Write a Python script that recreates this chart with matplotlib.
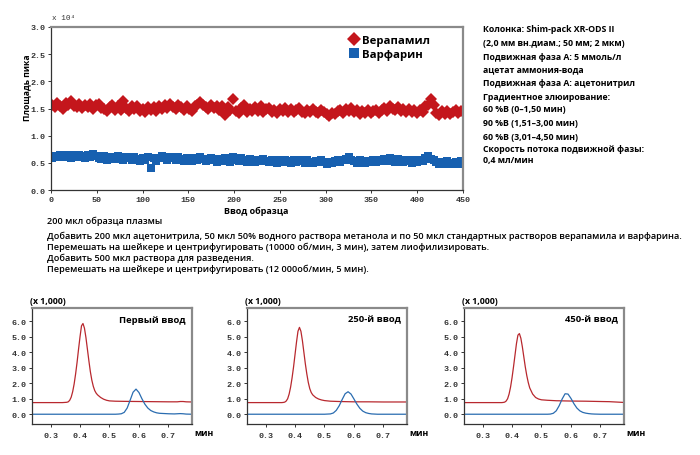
import matplotlib
matplotlib.use("Agg")
import matplotlib.pyplot as plt
import numpy as np

W, H = 700, 456

# ---- main chart data: peak area (x 10^4) every 3rd injection ----
injections = list(range(1, 450, 3))
verapamil = [
    1.56, 1.52, 1.60, 1.55, 1.50, 1.61, 1.56, 1.64, 1.55, 1.53,
    1.59, 1.51, 1.57, 1.52, 1.58, 1.50, 1.56, 1.59, 1.51, 1.49,
    1.45, 1.53, 1.56, 1.48, 1.54, 1.47, 1.64, 1.51, 1.45, 1.54,
    1.49, 1.55, 1.45, 1.50, 1.43, 1.52, 1.47, 1.53, 1.46, 1.54,
    1.49, 1.56, 1.51, 1.58, 1.53, 1.49, 1.57, 1.52, 1.48, 1.55,
    1.50, 1.46, 1.54, 1.57, 1.62, 1.57, 1.53, 1.49, 1.57, 1.51,
    1.55, 1.48, 1.54, 1.38, 1.52, 1.47, 1.67, 1.45, 1.42, 1.51,
    1.57, 1.43, 1.50, 1.45, 1.52, 1.46, 1.54, 1.44, 1.49, 1.51,
    1.43, 1.48, 1.42, 1.50, 1.45, 1.51, 1.44, 1.49, 1.43, 1.48,
    1.51, 1.44, 1.41, 1.48, 1.43, 1.50, 1.44, 1.42, 1.48, 1.43,
    1.40, 1.37, 1.42, 1.39, 1.45, 1.48, 1.42, 1.50, 1.45, 1.51,
    1.43, 1.48, 1.40, 1.46, 1.42, 1.47, 1.41, 1.45, 1.48, 1.42,
    1.47, 1.51, 1.46, 1.54, 1.50, 1.47, 1.53, 1.45, 1.50, 1.44,
    1.49, 1.43, 1.47, 1.42, 1.48, 1.44, 1.54, 1.57, 1.68, 1.56,
    1.41, 1.38, 1.45, 1.39, 1.46, 1.40, 1.44, 1.47, 1.41, 1.46,
]
warfarin = [
    0.59, 0.63, 0.60, 0.64, 0.61, 0.65, 0.62, 0.59, 0.64, 0.61,
    0.65, 0.62, 0.59, 0.64, 0.61, 0.66, 0.63, 0.59, 0.57, 0.62,
    0.56, 0.60, 0.61, 0.57, 0.62, 0.59, 0.56, 0.61, 0.58, 0.55,
    0.60, 0.57, 0.54, 0.59, 0.56, 0.60, 0.41, 0.58, 0.54, 0.59,
    0.63, 0.59, 0.56, 0.61, 0.58, 0.55, 0.60, 0.57, 0.54, 0.59,
    0.56, 0.53, 0.58, 0.55, 0.60, 0.57, 0.53, 0.56, 0.59, 0.55,
    0.52, 0.57, 0.54, 0.58, 0.55, 0.52, 0.61, 0.56, 0.53, 0.58,
    0.55, 0.52, 0.57, 0.54, 0.51, 0.56, 0.53, 0.57, 0.54, 0.51,
    0.56, 0.53, 0.50, 0.55, 0.52, 0.56, 0.53, 0.50, 0.55, 0.52,
    0.56, 0.53, 0.50, 0.55, 0.52, 0.49, 0.54, 0.51, 0.55, 0.52,
    0.48, 0.52, 0.50, 0.54, 0.56, 0.52, 0.55, 0.57, 0.61, 0.55,
    0.53, 0.50, 0.55, 0.52, 0.49, 0.54, 0.51, 0.55, 0.52, 0.56,
    0.53, 0.57, 0.54, 0.58, 0.55, 0.52, 0.57, 0.54, 0.51, 0.56,
    0.53, 0.50, 0.55, 0.52, 0.56, 0.53, 0.59, 0.62, 0.57, 0.55,
    0.51, 0.48, 0.52, 0.47, 0.53, 0.49, 0.47, 0.52, 0.48, 0.53,
]
main_xticks = [0, 50, 100, 150, 200, 250, 300, 350, 400, 450]
main_yticks = [0.0, 0.5, 1.0, 1.5, 2.0, 2.5, 3.0]

# ---- chromatograms (x 1,000) ----
t_red = [0.237, 0.30, 0.34, 0.355, 0.36, 0.365, 0.37, 0.375, 0.38, 0.385,
         0.39, 0.395, 0.40, 0.405, 0.41, 0.415, 0.42, 0.425, 0.43, 0.435,
         0.44, 0.445, 0.45, 0.455, 0.46, 0.47, 0.48, 0.49, 0.50, 0.52,
         0.55, 0.60, 0.65, 0.70, 0.73, 0.74, 0.75, 0.76, 0.78]
red_first = [0.75, 0.75, 0.75, 0.77, 0.80, 0.90, 1.10, 1.45, 1.95, 2.60,
             3.35, 4.20, 5.00, 5.70, 5.85, 5.55, 4.95, 4.20, 3.45, 2.75,
             2.20, 1.80, 1.52, 1.35, 1.24, 1.08, 0.97, 0.90, 0.86, 0.84,
             0.83, 0.82, 0.81, 0.80, 0.80, 0.82, 0.82, 0.80, 0.79]
red_250 = [0.75, 0.75, 0.75, 0.75, 0.76, 0.78, 0.85, 1.00, 1.30, 1.75,
           2.35, 3.05, 3.85, 4.65, 5.35, 5.60, 5.35, 4.75, 4.00, 3.25,
           2.60, 2.05, 1.65, 1.40, 1.25, 1.08, 0.98, 0.92, 0.88, 0.84,
           0.82, 0.80, 0.80, 0.79, 0.79, 0.79, 0.79, 0.79, 0.79]
red_450 = [0.75, 0.75, 0.75, 0.75, 0.75, 0.75, 0.76, 0.78, 0.85, 1.00,
           1.30, 1.75, 2.35, 3.05, 3.80, 4.55, 5.10, 5.20, 4.90, 4.35,
           3.70, 3.05, 2.50, 2.05, 1.70, 1.30, 1.08, 0.98, 0.93, 0.90,
           0.87, 0.85, 0.84, 0.82, 0.81, 0.80, 0.79, 0.78, 0.76]
t_blue = [0.237, 0.45, 0.50, 0.52, 0.53, 0.54, 0.55, 0.56, 0.57, 0.58,
          0.59, 0.60, 0.61, 0.62, 0.63, 0.64, 0.65, 0.66, 0.67, 0.68,
          0.70, 0.72, 0.74, 0.75, 0.76, 0.78]
blue_first = [0.0, 0.0, 0.0, 0.0, 0.01, 0.03, 0.12, 0.40, 0.90, 1.42,
              1.62, 1.40, 1.00, 0.65, 0.40, 0.24, 0.15, 0.09, 0.06, 0.05,
              0.03, 0.02, 0.04, 0.03, 0.01, 0.0]
blue_250 = [0.0, 0.0, 0.0, 0.02, 0.08, 0.25, 0.55, 0.95, 1.32, 1.45,
            1.30, 0.98, 0.65, 0.38, 0.20, 0.10, 0.05, 0.02, 0.01, 0.0,
            0.0, 0.0, 0.0, 0.0, 0.0, 0.0]
blue_450 = [0.0, 0.0, 0.0, 0.0, 0.01, 0.06, 0.22, 0.55, 0.98, 1.32,
            1.30, 1.02, 0.68, 0.40, 0.22, 0.12, 0.07, 0.04, 0.02, 0.01,
            0.0, 0.0, 0.0, 0.0, 0.0, 0.0]
chrom_titles = ["Первый ввод", "250-й ввод", "450-й ввод"]
chrom_xticks = [0.3, 0.4, 0.5, 0.6, 0.7]
chrom_yticks = [0.0, 1.0, 2.0, 3.0, 4.0, 5.0, 6.0]

conditions = [
    "Колонка: Shim-pack XR-ODS II",
    "(2,0 мм вн.диам.; 50 мм; 2 мкм)",
    "Подвижная фаза A: 5 ммоль/л",
    "ацетат аммония-вода",
    "Подвижная фаза A: ацетонитрил",
    "Градиентное элюирование:",
    "60 %B (0–1,50 мин)",
    "90 %B (1,51–3,00 мин)",
    "60 %B (3,01–4,50 мин)",
    "Скорость потока подвижной фазы:",
    "0,4 мл/мин",
]
cond_y = [30, 44, 57, 70, 83, 97, 110, 123, 137, 150, 161]
prep = [
    "200 мкл образца плазмы",
    "Добавить 200 мкл ацетонитрила, 50 мкл 50% водного раствора метанола и по 50 мкл стандартных растворов верапамила и варфарина.",
    "Перемешать на шейкере и центрифугировать (10000 об/мин, 3 мин), затем лиофилизировать.",
    "Добавить 500 мкл раствора для разведения.",
    "Перемешать на шейкере и центрифугировать (12 000об/мин, 5 мин).",
]
prep_y = [221, 236, 247, 258, 269]

RED = "#c4161c"
BLUE = "#1760b0"
LRED = "#b8282e"
LBLUE = "#2a6cb0"
SANS = ["Open Sans", "DejaVu Sans"]
MONO = ["Liberation Mono", "DejaVu Sans Mono"]

fig = plt.figure(figsize=(W / 100, H / 100), dpi=100)


def px_axes(l, t, r, b):
    return fig.add_axes([l / W, 1 - b / H, (r - l) / W, (b - t) / H])


def style_frame(ax):
    for s in ("left", "bottom"):
        ax.spines[s].set_color("#333333")
        ax.spines[s].set_linewidth(0.9)
    for s in ("top", "right"):
        ax.spines[s].set_color("#8a8a8a")
        ax.spines[s].set_linewidth(1.6)
    ax.tick_params(direction="out", length=2.5, width=0.7, pad=1.5,
                   colors="#333333", labelsize=6)
    for lab in ax.get_xticklabels() + ax.get_yticklabels():
        lab.set_family(MONO)
        lab.set_fontweight("bold")
        lab.set_color("#333333")


# main chart
ax = px_axes(51, 28, 463, 191)
ax.plot(injections, verapamil, linestyle="none", marker="D", markersize=6.3,
        color=RED, markeredgewidth=0, label="Верапамил")
ax.plot(injections, warfarin, linestyle="none", marker="s", markersize=5.6,
        color=BLUE, markeredgewidth=0, label="Варфарин")
ax.set_xlim(0, 450)
ax.set_ylim(0, 3.0)
ax.set_xticks(main_xticks)
ax.set_yticks(main_yticks)
ax.set_xticklabels([str(v) for v in main_xticks])
ax.set_yticklabels(["%.1f" % v for v in main_yticks])
style_frame(ax)
leg = ax.legend(loc="upper left", bbox_to_anchor=(0.715, 0.98), frameon=False,
                handlelength=0.7, handletextpad=0.35, labelspacing=0.25,
                borderaxespad=0, markerscale=1.2,
                prop={"family": SANS, "weight": "bold", "size": 8.2})
fig.text(52 / W, 1 - 18 / H, "x 10⁴", family=MONO, fontsize=5.5,
         color="#333333", va="center", ha="left")
fig.text(27 / W, 1 - 88 / H, "Площадь пика", rotation=90, family=SANS,
         fontweight="bold", fontsize=6.2, va="center", ha="center")
fig.text(256 / W, 1 - 211 / H, "Ввод образца", family=SANS,
         fontweight="bold", fontsize=6.5, va="center", ha="center")

# conditions on the right
for line, y in zip(conditions, cond_y):
    fig.text(483 / W, 1 - y / H, line, family=SANS, fontweight="bold",
             fontsize=6.3, va="center", ha="left")

# sample prep
for line, y in zip(prep, prep_y):
    fig.text(47 / W, 1 - y / H, line, family=SANS, fontweight="semibold",
             fontsize=6.6, va="center", ha="left")

# chromatograms
lefts = [32, 247, 464]
reds = [red_first, red_250, red_450]
blues = [blue_first, blue_250, blue_450]
for left, title, rv, bv in zip(lefts, chrom_titles, reds, blues):
    cax = px_axes(left, 309, left + 160, 425)
    cax.plot(t_red, rv, color=LRED, linewidth=0.9)
    cax.plot(t_blue, bv, color=LBLUE, linewidth=0.9)
    cax.set_xlim(0.237, 0.78)
    cax.set_ylim(-0.63, 6.85)
    cax.set_xticks(chrom_xticks)
    cax.set_yticks(chrom_yticks)
    cax.set_xticklabels(["%.1f" % v for v in chrom_xticks])
    cax.set_yticklabels(["%.1f" % v for v in chrom_yticks])
    style_frame(cax)
    cax.tick_params(axis="x", pad=3)
    cax.text(0.96, 0.905, title, transform=cax.transAxes, family=SANS,
             fontweight="bold", fontsize=6.8, ha="right", va="center")
    fig.text((left - 2) / W, 1 - 301 / H, "(x 1,000)", family=SANS,
             fontweight="bold", fontsize=6.3, ha="left", va="center")
    fig.text((left + 162) / W, 1 - 434 / H, "мин", family=SANS,
             fontweight="bold", fontsize=6.3, ha="left", va="center")

fig.savefig("out.png", dpi=100)
